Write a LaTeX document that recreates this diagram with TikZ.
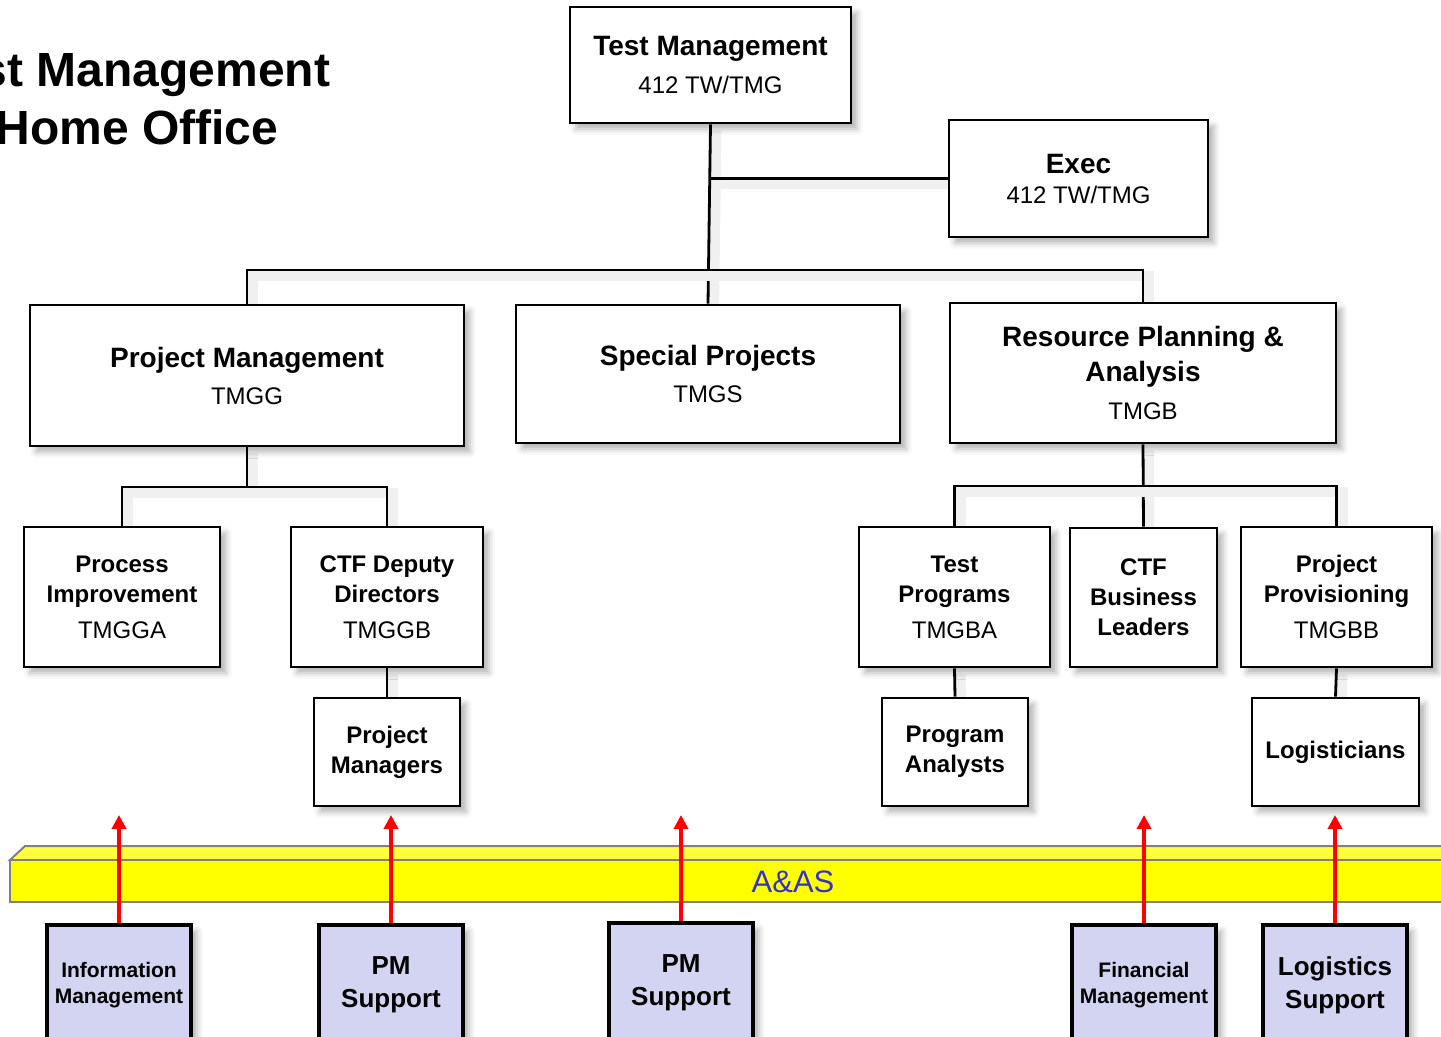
\documentclass[tikz,border=0pt]{standalone}
\usepackage{fontspec}
\setmainfont{Liberation Sans}
\usetikzlibrary{arrows.meta,backgrounds,shadows.blur}

\definecolor{aasyellow}{RGB}{255,255,0}
\definecolor{aastop}{RGB}{255,255,64}
\definecolor{aasedge}{RGB}{128,128,128}
\definecolor{aasblue}{RGB}{51,51,204}
\definecolor{supportfill}{RGB}{211,211,242}

\newcommand{\unitcode}[1]{{\fontsize{12}{14}\selectfont\mdseries #1}}

\begin{document}
\begin{tikzpicture}[x=0.5pt,y=-0.5pt,
  office/.style={draw,line width=1.4pt,fill=white,align=center,
    blur shadow={shadow xshift=3pt,shadow yshift=-3pt,shadow blur radius=3pt,shadow opacity=30}},
  big office/.style={office,font=\fontsize{14}{17.5}\selectfont\bfseries},
  small office/.style={office,font=\fontsize{12}{15}\selectfont\bfseries},
  support box/.style={draw,line width=2.2pt,fill=supportfill,align=center,
    minimum width=72pt,minimum height=60pt,
    blur shadow={shadow xshift=3pt,shadow yshift=-3pt,shadow blur radius=3pt,shadow opacity=30}},
  link/.style={line width=1.4pt,
    preaction={draw=black!6,line width=5pt,transform canvas={xshift=3pt,yshift=-3pt}}},
  feed/.style={red,line width=2pt,-{Triangle[width=7pt,length=7pt]}}]

  \useasboundingbox (0,0) rectangle (1441,1037);

  \node[anchor=base west,inner sep=0pt,font=\fontsize{24}{28}\selectfont\bfseries] (title) at (-72,87) {Test Management};
  \node[anchor=base west,inner sep=0pt,font=\fontsize{24}{28}\selectfont\bfseries] (home) at (-5,145) {Home Office};

  % A&AS bar
  \draw[fill=aastop,draw=aasedge,line width=1pt] (10,860) -- (25,846) -- (1450,846) -- (1450,860) -- cycle;
  \draw[fill=aasyellow,draw=aasedge,line width=1pt] (10,860) rectangle (1450,902);
  \node[text=aasblue,font=\fontsize{15.5}{18}\selectfont] (aas) at (793,882) {A\&AS};

  % top level
  \node[big office,minimum width=140.5pt,minimum height=58pt] (tm) at (710.5,65) {Test Management\\[1.5pt]\unitcode{412 TW/TMG}};
  \node[big office,minimum width=129.5pt,minimum height=58.5pt] (exec) at (1078.5,178.5) {Exec\\[-2.5pt]\unitcode{412 TW/TMG}};

  \node[big office,minimum width=217pt,minimum height=70.5pt] (pm) at (247,375.5) {Project Management\\[1pt]\unitcode{TMGG}};
  \node[big office,minimum width=192pt,minimum height=69pt] (sp) at (708,374) {Special Projects\\[1pt]\unitcode{TMGS}};
  \node[big office,minimum width=193pt,minimum height=70pt] (rpa) at (1143,373) {Resource Planning \&\\Analysis\\[1.5pt]\unitcode{TMGB}};

  % project management branch
  \node[small office,minimum width=98pt,minimum height=70pt] (pi) at (122,597) {Process\\Improvement\\[3pt]\unitcode{TMGGA}};
  \node[small office,minimum width=96pt,minimum height=70pt] (cdd) at (387,597) {CTF Deputy\\Directors\\[3pt]\unitcode{TMGGB}};
  \node[small office,minimum width=73pt,minimum height=54pt] (pjm) at (387,752) {Project\\Managers};

  % resource planning branch
  \node[small office,minimum width=95.5pt,minimum height=70pt] (tp) at (954.5,597) {Test\\Programs\\[3pt]\unitcode{TMGBA}};
  \node[small office,minimum width=73.5pt,minimum height=69.5pt] (cbl) at (1143.5,597.5) {CTF\\Business\\Leaders};
  \node[small office,minimum width=95.5pt,minimum height=70pt] (pp) at (1336.5,597) {Project\\Provisioning\\[3pt]\unitcode{TMGBB}};
  \node[small office,minimum width=73pt,minimum height=54pt] (pa) at (955,752) {Program\\Analysts};
  \node[small office,minimum width=83.5pt,minimum height=54pt] (lg) at (1335.5,752) {Logisticians};

  % support contracts
  \node[support box,font=\fontsize{10.5}{13}\selectfont\bfseries] (im) at (119,985) {Information\\Management};
  \node[support box,font=\fontsize{13}{16.5}\selectfont\bfseries] (pms) at (391,985) {PM\\Support};
  \node[support box,font=\fontsize{13}{16.5}\selectfont\bfseries] (pmsb) at (681,983) {PM\\Support};
  \node[support box,font=\fontsize{10.5}{13}\selectfont\bfseries] (fm) at (1144,985) {Financial\\Management};
  \node[support box,font=\fontsize{13}{16.5}\selectfont\bfseries] (ls) at (1335,985) {Logistics\\Support};

  \coordinate (bus) at (0,270);
  \coordinate (pmbus) at (0,487);
  \coordinate (rpbus) at (0,486);
  \coordinate (tip) at (0,815);

  \begin{scope}[on background layer]
    \draw[link] (tm.south) -- (sp.north);
    \draw[link] (exec.west) -- (exec.west -| tm.south);
    \draw[link] (pm.north) -- (pm.north |- bus) -- (rpa.north |- bus) -- (rpa.north);
    \draw[link] (pm.south) -- (pm.south |- pmbus);
    \draw[link] (pi.north) -- (pi.north |- pmbus) -- (cdd.north |- pmbus) -- (cdd.north);
    \draw[link] (cdd.south) -- (pjm.north);
    \draw[link] (rpa.south) -- (cbl.north);
    \draw[link] (tp.north) -- (tp.north |- rpbus) -- (pp.north |- rpbus) -- (pp.north);
    \draw[link] (tp.south) -- (pa.north);
    \draw[link] (pp.south) -- (lg.north);
  \end{scope}

  \foreach \n in {im,pms,pmsb,fm,ls}
    \draw[feed] (\n.north) -- (\n.north |- tip);

\end{tikzpicture}
\end{document}
